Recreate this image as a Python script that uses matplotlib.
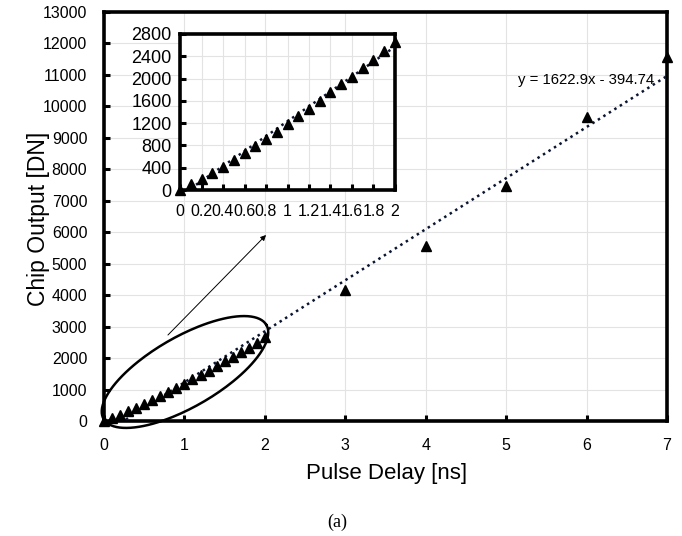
import numpy as np
import matplotlib
matplotlib.use('Agg')
from matplotlib import pyplot as plt

# pulse delay [ns] and chip output [DN]
delay_fine = [0, 0.1, 0.2, 0.3, 0.4, 0.5, 0.6, 0.7, 0.8, 0.9, 1.0,
              1.1, 1.2, 1.3, 1.4, 1.5, 1.6, 1.7, 1.8, 1.9, 2.0]
out_fine = [0, 108, 197, 305, 419, 538, 658, 784, 915, 1035, 1179,
            1328, 1460, 1603, 1753, 1908, 2034, 2184, 2333, 2495, 2662]
delay_coarse = [3, 4, 5, 6, 7]
out_coarse = [4160, 5560, 7470, 9650, 11570]

slope = 1622.9
offset = -394.74
eq_label = 'y = 1622.9x - 394.74'

main_yticks = list(range(0, 13001, 1000))
main_xticks = list(range(0, 8))
inset_yticks = list(range(0, 2801, 400))
inset_xticks = [0, 0.2, 0.4, 0.6, 0.8, 1, 1.2, 1.4, 1.6, 1.8, 2]
inset_xlabels = ['0', '0.2', '0.4', '0.6', '0.8', '1', '1.2', '1.4', '1.6', '1.8', '2']

plt.rcParams['font.family'] = ['Liberation Sans', 'DejaVu Sans']

W, H = 682, 536
fig = plt.figure(figsize=(W / 100, H / 100), dpi=100)

def px_box(l, t, r, b):
    return [l / W, 1 - b / H, (r - l) / W, (b - t) / H]

ax = fig.add_axes(px_box(104, 12, 667, 421))
x_all = delay_fine + delay_coarse
y_all = out_fine + out_coarse
ax.plot(x_all, y_all, ls='none', marker='^', ms=6.5, color='black', clip_on=False, zorder=4)
xl = np.array([0, 7])
ax.plot(xl, slope * xl + offset, ls=(0, (1, 1.6)), lw=1.8, color='#0b1530', zorder=3)
ax.set_xlim(0, 7)
ax.set_ylim(0, 13000)
ax.set_xticks(main_xticks)
ax.set_yticks(main_yticks)
ax.grid(True, color='#e3e3e3', lw=0.8)
ax.set_axisbelow(True)
for s in ax.spines.values():
    s.set_linewidth(2.6)
ax.tick_params(direction='in', length=4, width=2.2, pad=12, labelsize=11.5)
ax.set_xlabel('Pulse Delay [ns]', fontsize=16)
ax.set_ylabel('Chip Output [DN]', fontsize=16.5)
ax.xaxis.set_label_coords(0.501, -0.103)
ax.yaxis.set_label_coords(-0.096, 0.494)
ax.text(6.84, 10850, eq_label, ha='right', va='center', fontsize=10.7)

# ellipse around the fine-step points, drawn in pixel space
fig.canvas.draw()
cx, cy = 185, 372
a, b, th = 94, 35, np.deg2rad(30)
t = np.linspace(0, 2 * np.pi, 200)
ex = cx + a * np.cos(t) * np.cos(th) - b * np.sin(t) * np.sin(th)
ey = cy - (a * np.cos(t) * np.sin(th) + b * np.sin(t) * np.cos(th))
disp = np.column_stack([ex, H - ey])
dat = ax.transData.inverted().transform(disp)
ax.plot(dat[:, 0], dat[:, 1], color='black', lw=1.8, clip_on=False, zorder=5)

p0 = ax.transData.inverted().transform((166, H - 337))
p1 = ax.transData.inverted().transform((268, H - 233))
ax.annotate('', xy=p1, xytext=p0,
            arrowprops=dict(arrowstyle='-|>', lw=0.7, color='black', mutation_scale=8))

# inset
ins = fig.add_axes(px_box(180, 34, 395, 190))
ins.plot(delay_fine, out_fine, ls='none', marker='^', ms=6.5, color='black', clip_on=False, zorder=4)
k, c = np.polyfit(delay_fine, out_fine, 1)
xi = np.array([0, 2])
ins.plot(xi, k * xi + c, ls=(0, (1, 1.6)), lw=1.8, color='#0b1530', zorder=3)
ins.set_xlim(0, 2)
ins.set_ylim(0, 2800)
ins.set_xticks(inset_xticks)
ins.set_xticklabels(inset_xlabels)
ins.set_yticks(inset_yticks)
ins.grid(True, color='#e3e3e3', lw=0.8)
ins.set_axisbelow(True)
for s in ins.spines.values():
    s.set_linewidth(2.6)
ins.tick_params(direction='in', length=4, width=2.2)
ins.tick_params(axis='y', labelsize=13, pad=6)
ins.tick_params(axis='x', labelsize=11.5, pad=10)

fig.text(337 / W, 1 - 522 / H, '(a)', family=['Liberation Serif', 'DejaVu Serif'],
         fontsize=13, ha='center', va='center')

fig.savefig('out.png', dpi=100)
